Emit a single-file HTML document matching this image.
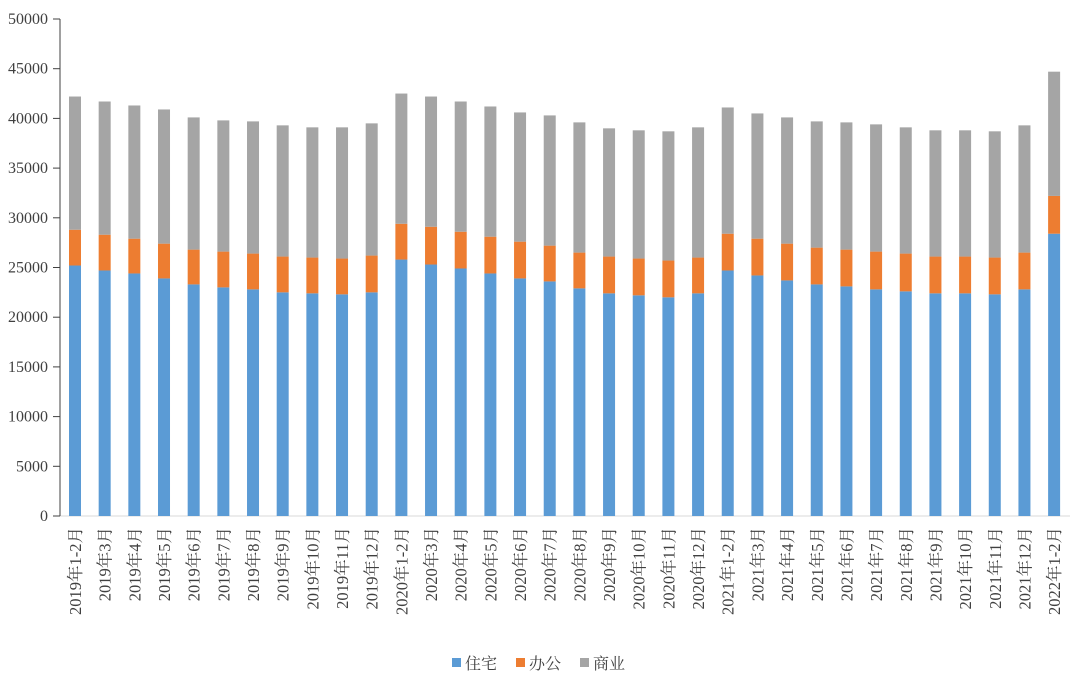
<!DOCTYPE html><html><head><meta charset="utf-8"><style>body{margin:0;background:#fff}</style></head><body>
<svg id="s" width="1080" height="681" xmlns="http://www.w3.org/2000/svg" font-family="'Liberation Serif','Noto Serif CJK SC',serif" fill="#404040"></svg>
<script>
const d=[[25200,28800,42200],[24700,28300,41700],[24400,27900,41300],[23900,27400,40900],[23300,26800,40100],[23000,26600,39800],[22800,26400,39700],[22500,26100,39300],[22400,26000,39100],[22300,25900,39100],[22500,26200,39500],[25800,29400,42500],[25300,29100,42200],[24900,28600,41700],[24400,28100,41200],[23900,27600,40600],[23600,27200,40300],[22900,26500,39600],[22400,26100,39000],[22200,25900,38800],[22000,25700,38700],[22400,26000,39100],[24700,28400,41100],[24200,27900,40500],[23700,27400,40100],[23300,27000,39700],[23100,26800,39600],[22800,26600,39400],[22600,26400,39100],[22400,26100,38800],[22400,26100,38800],[22300,26000,38700],[22800,26500,39300],[28400,32200,44700]];
const lab=[];for(let y=2019;y<=2022;y++){for(let m=1;m<=12;m++){if(m==2)continue;if(y==2022&&m>1)break;lab.push(y+"年"+(m==1?"1-2":m)+"月");}}
const Y=v=>516-v*497/50000;let h='';
for(let i=0;i<=10;i++){const y=Y(i*5000);h+=`<line x1="53" x2="60" y1="${y}" y2="${y}" stroke="#404040"/><text x="48" y="${y+5}" text-anchor="end" font-size="16">${i*5000}</text>`;}
h+=`<line x1="60" x2="1070" y1="516" y2="516" stroke="#d9d9d9"/><line x1="60" x2="60" y1="19" y2="516" stroke="#404040"/>`;
const c=['#5b9bd5','#ed7d31','#a5a5a5'];
d.forEach((r,i)=>{const x=75+i*29.67;let p=0;r.forEach((v,k)=>{h+=`<rect x="${x-6}" y="${Y(v)}" width="12" height="${Y(p)-Y(v)}" fill="${c[k]}"/>`;p=v;});
h+=`<text transform="translate(${x+6},527) rotate(-90)" text-anchor="end" font-size="16.5">${lab[i]}</text>`;});
[['住宅',452],['办公',516],['商业',580]].forEach((l,k)=>{h+=`<rect x="${l[1]}" y="658" width="9" height="9" fill="${c[k]}"/><text x="${l[1]+13}" y="669" font-size="16">${l[0]}</text>`;});
document.getElementById('s').innerHTML=h;
</script></body></html>
